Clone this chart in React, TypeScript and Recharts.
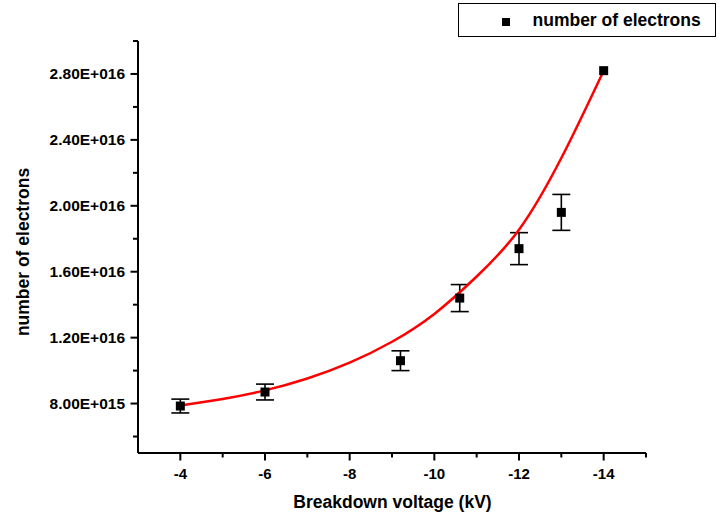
import React from 'react';
import { ComposedChart, XAxis, YAxis, Scatter, Line, ErrorBar, Legend } from 'recharts';

// measured points
const voltages = [-4, -6, -9.2, -10.6, -12, -13, -14];
const electrons = [7.85e15, 8.7e15, 1.06e16, 1.44e16, 1.74e16, 1.96e16, 2.82e16];
const electronErrors = [0.42e15, 0.48e15, 0.6e15, 0.82e15, 0.97e15, 1.09e15, 0];

// fitted (red) curve
const fitVoltages = [-4, -5, -6, -7, -8, -9, -10, -11, -12, -13, -14];
const fitElectrons = [7.88e15, 8.28e15, 8.8e15, 9.52e15, 1.048e16, 1.175e16, 1.344e16, 1.571e16, 1.855e16, 2.29e16, 2.82e16];

// ticks
const xTicks = [-4, -5, -6, -7, -8, -9, -10, -11, -12, -13, -14, -15];
const xMajorTicks = [-4, -6, -8, -10, -12, -14];
const xTickLabels = ['-4', '-6', '-8', '-10', '-12', '-14'];
const yTicks = [6e15, 8e15, 1e16, 1.2e16, 1.4e16, 1.6e16, 1.8e16, 2e16, 2.2e16, 2.4e16, 2.6e16, 2.8e16, 3e16];
const yMajorTicks = [8e15, 1.2e16, 1.6e16, 2e16, 2.4e16, 2.8e16];
const yTickLabels = ['8.00E+015', '1.20E+016', '1.60E+016', '2.00E+016', '2.40E+016', '2.80E+016'];

const pointData = voltages.map((x, i) => ({ x, y: electrons[i], err: electronErrors[i] }));
const fitData = fitVoltages.map((x, i) => ({ x, y: fitElectrons[i] }));

const FONT = '"Liberation Sans", Arial, sans-serif';

const isClose = (a: number, b: number) => Math.abs(a - b) < Math.abs(b) * 1e-6 + 1e-9;

const XTick = (props: any) => {
  const { x, y, payload } = props;
  const idx = xMajorTicks.findIndex((v) => isClose(v, payload.value));
  const major = idx >= 0;
  return (
    <g>
      <line x1={x} y1={y} x2={x} y2={y + (major ? 7.5 : 4.5)} stroke="#000" strokeWidth={2} />
      {major && (
        <text x={x} y={y + 25.5} textAnchor="middle" fontFamily={FONT} fontWeight="bold" fontSize={15} fill="#000">
          {xTickLabels[idx]}
        </text>
      )}
    </g>
  );
};

const YTick = (props: any) => {
  const { x, y, payload } = props;
  const idx = yMajorTicks.findIndex((v) => isClose(v, payload.value));
  const major = idx >= 0;
  return (
    <g>
      <line x1={x} y1={y} x2={x - (major ? 7.5 : 5)} y2={y} stroke="#000" strokeWidth={2} />
      {major && (
        <text x={x - 13} y={y + 5.5} textAnchor="end" fontFamily={FONT} fontWeight="bold" fontSize={15.5} fill="#000">
          {yTickLabels[idx]}
        </text>
      )}
    </g>
  );
};

const SquareDot = (props: any) => {
  const { cx, cy } = props;
  if (cx == null || cy == null) return null;
  return <rect x={cx - 4.5} y={cy - 4.5} width={9} height={9} fill="#000" />;
};

const LegendBox = () => (
  <div
    style={{
      position: 'relative',
      boxSizing: 'border-box',
      width: 258,
      height: 34,
      border: '1.5px solid #000',
      background: '#fff',
    }}
  >
    <div style={{ position: 'absolute', left: 43, top: 13.5, width: 8, height: 8, background: '#000' }} />
    <div
      style={{
        position: 'absolute',
        left: 73.5,
        top: 5.5,
        lineHeight: '20px',
        fontFamily: FONT,
        fontWeight: 'bold',
        fontSize: 17.5,
        color: '#000',
        whiteSpace: 'nowrap',
      }}
    >
      number of electrons
    </div>
  </div>
);

export default function App() {
  return (
    <div style={{ position: 'absolute', left: 0, top: 0 }}>
      <ComposedChart width={720} height={518} margin={{ top: 41, right: 74, bottom: 0, left: 0 }}>
        <XAxis
          type="number"
          dataKey="x"
          domain={[-15, -3]}
          reversed
          ticks={xTicks}
          interval={0}
          tickSize={0}
          tickMargin={0}
          tickLine={false}
          tick={<XTick />}
          height={65}
          stroke="#000"
          axisLine={{ stroke: '#000', strokeWidth: 2 }}
          allowDataOverflow
          label={() => (
            <text x={392.5} y={508} textAnchor="middle" fontFamily={FONT} fontWeight="bold" fontSize={17.5} fill="#000">
              Breakdown voltage (kV)
            </text>
          )}
        />
        <YAxis
          type="number"
          dataKey="y"
          domain={[5e15, 3e16]}
          ticks={yTicks}
          interval={0}
          tickSize={0}
          tickMargin={0}
          tickLine={false}
          tick={<YTick />}
          width={138}
          stroke="#000"
          axisLine={{ stroke: '#000', strokeWidth: 2 }}
          allowDataOverflow
          label={() => (
            <text
              x={28.5}
              y={252}
              transform="rotate(-90 28.5 252)"
              textAnchor="middle"
              fontFamily={FONT}
              fontWeight="bold"
              fontSize={17.5}
              fill="#000"
            >
              number of electrons
            </text>
          )}
        />
        <Scatter data={pointData} dataKey="y" shape={<SquareDot />} isAnimationActive={false} name="number of electrons">
          <ErrorBar dataKey="err" direction="y" width={9} stroke="#000" strokeWidth={1.6} />
        </Scatter>
        <Line
          data={fitData}
          dataKey="y"
          type="natural"
          stroke="#ff0000"
          strokeWidth={2.5}
          dot={false}
          activeDot={false}
          isAnimationActive={false}
          legendType="none"
        />
        <Legend
          layout="horizontal"
          verticalAlign="middle"
          align="center"
          wrapperStyle={{ position: 'absolute', top: 3, left: 458, width: 258, height: 34 }}
          content={() => <LegendBox />}
        />
      </ComposedChart>
    </div>
  );
}
